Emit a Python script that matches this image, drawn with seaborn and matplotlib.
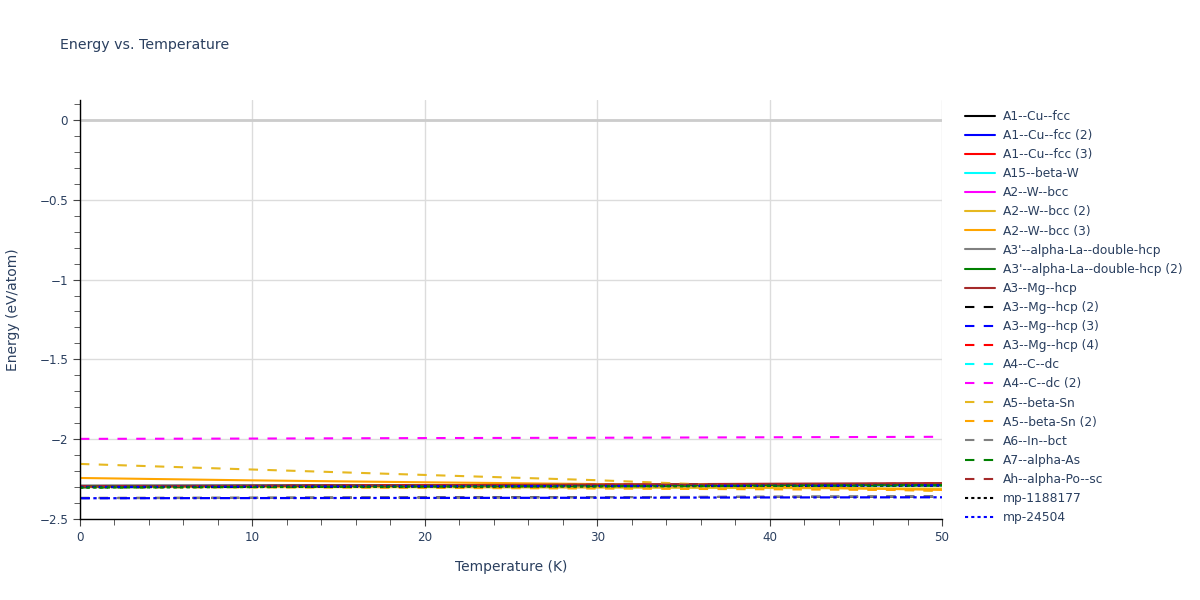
import numpy as np
import pandas as pd
import matplotlib
matplotlib.use("Agg")
import matplotlib.pyplot as plt
from matplotlib.ticker import MultipleLocator
import seaborn as sns

# temperaturas (K)
temps = [0, 10, 20, 30, 40, 50]

names = ["A1--Cu--fcc", "A1--Cu--fcc (2)", "A1--Cu--fcc (3)", "A15--beta-W",
         "A2--W--bcc", "A2--W--bcc (2)", "A2--W--bcc (3)",
         "A3'--alpha-La--double-hcp", "A3'--alpha-La--double-hcp (2)",
         "A3--Mg--hcp", "A3--Mg--hcp (2)", "A3--Mg--hcp (3)", "A3--Mg--hcp (4)",
         "A4--C--dc", "A4--C--dc (2)", "A5--beta-Sn", "A5--beta-Sn (2)",
         "A6--In--bct", "A7--alpha-As", "Ah--alpha-Po--sc",
         "mp-1188177", "mp-24504"]

# energias (eV/atom)
energias = [
    [-2.292, -2.290, -2.288, -2.286, -2.284, -2.282],
    [-2.296, -2.294, -2.292, -2.290, -2.288, -2.286],
    [-2.296, -2.293, -2.290, -2.286, -2.283, -2.279],
    [-2.300, -2.299, -2.297, -2.295, -2.293, -2.291],
    [-2.298, -2.296, -2.294, -2.292, -2.290, -2.288],
    [-2.300, -2.300, -2.301, -2.303, -2.306, -2.310],
    [-2.243, -2.258, -2.270, -2.281, -2.298, -2.318],
    [-2.292, -2.291, -2.290, -2.288, -2.286, -2.284],
    [-2.295, -2.293, -2.291, -2.289, -2.287, -2.285],
    [-2.297, -2.293, -2.288, -2.284, -2.279, -2.275],
    [-2.368, -2.367, -2.365, -2.363, -2.361, -2.359],
    [-2.297, -2.295, -2.293, -2.291, -2.289, -2.287],
    [-2.296, -2.293, -2.290, -2.286, -2.283, -2.279],
    [-2.300, -2.299, -2.297, -2.295, -2.293, -2.291],
    [-1.998, -1.996, -1.993, -1.991, -1.988, -1.985],
    [-2.155, -2.190, -2.224, -2.257, -2.300, -2.325],
    [-2.300, -2.302, -2.305, -2.309, -2.314, -2.320],
    [-2.370, -2.368, -2.366, -2.363, -2.361, -2.358],
    [-2.302, -2.299, -2.296, -2.294, -2.291, -2.289],
    [-2.296, -2.293, -2.290, -2.286, -2.283, -2.279],
    [-2.301, -2.299, -2.297, -2.295, -2.293, -2.291],
    [-2.299, -2.297, -2.295, -2.293, -2.291, -2.289],
]

# trazas que no caben en la leyenda
extra_energias = [
    [-2.303, -2.300, -2.297, -2.295, -2.292, -2.290],
    [-2.370, -2.369, -2.368, -2.367, -2.365, -2.364],
]

colores = ["black", "blue", "red", "cyan", "magenta", "#e6b820", "orange",
           "gray", "green", "brown"]
solid = "-"
dash = (0, (4.5, 4.5))
dot = (0, (1.5, 1.5))
dashdot = (0, (4.5, 1.5, 1.5, 1.5))
estilos = [solid] * 10 + [dash] * 10 + [dot] * 10

sns.set_style("white")
plt.rcParams['font.family'] = ['DejaVu Sans']
txt = "#2a3f5f"

fig = plt.figure(figsize=(12, 6), dpi=100)
ax = fig.add_axes([80 / 1200, 1 - 519 / 600, 862 / 1200, 419 / 600])

for i, (n, e) in enumerate(zip(names, energias)):
    sns.lineplot(x=temps, y=e, color=colores[i % 10], linestyle=estilos[i],
                 linewidth=1.5, label=n, ax=ax)

extra_estilos = [dot, dashdot]
extra_colores = ["green", "blue"]
for e, s, c in zip(extra_energias, extra_estilos, extra_colores):
    sns.lineplot(x=temps, y=e, color=c, linestyle=s, linewidth=1.6,
                 label="_nolegend_", ax=ax)

ax.set_xlim(0, 50)
ax.set_ylim(-2.5, 0.125)
ax.xaxis.set_major_locator(MultipleLocator(10))
ax.xaxis.set_minor_locator(MultipleLocator(2))
ax.yaxis.set_major_locator(MultipleLocator(0.5))
ax.yaxis.set_minor_locator(MultipleLocator(0.1))
ax.grid(True, which="major", color="#dcdcdc", linewidth=1)
ax.axhline(0, color="#cccccc", linewidth=2, zorder=1)
ax.set_axisbelow(True)
for s in ["top", "right"]:
    ax.spines[s].set_visible(False)
for s in ["left", "bottom"]:
    ax.spines[s].set_color("black")
    ax.spines[s].set_linewidth(1)
ax.tick_params(which="both", direction="out", colors="#444444", labelcolor=txt,
               labelsize=8.6, left=True, bottom=True)
ax.tick_params(which="major", length=5)
ax.tick_params(which="minor", length=4)
ax.set_yticks([0, -0.5, -1, -1.5, -2, -2.5])
ax.set_yticklabels(["0", "\u22120.5", "\u22121", "\u22121.5", "\u22122", "\u22122.5"])

ax.set_xlabel("Temperature (K)", color=txt, fontsize=10, labelpad=12)
ax.set_ylabel("Energy (eV/atom)", color=txt, fontsize=10, labelpad=14)
fig.text(60 / 1200, 1 - 45 / 600, "Energy vs. Temperature", color=txt,
         fontsize=10.2, va="center", ha="left")

ax.get_legend().remove() if ax.get_legend() else None
h, l = ax.get_legend_handles_labels()
fig.legend(h, l, loc="upper left", bbox_to_anchor=(960 / 1200, 1 - 105 / 600),
           frameon=False, fontsize=8.8, labelcolor=txt, handlelength=2.5,
           labelspacing=0.5, handletextpad=0.6, borderaxespad=0)

fig.savefig("out.png", dpi=100)
